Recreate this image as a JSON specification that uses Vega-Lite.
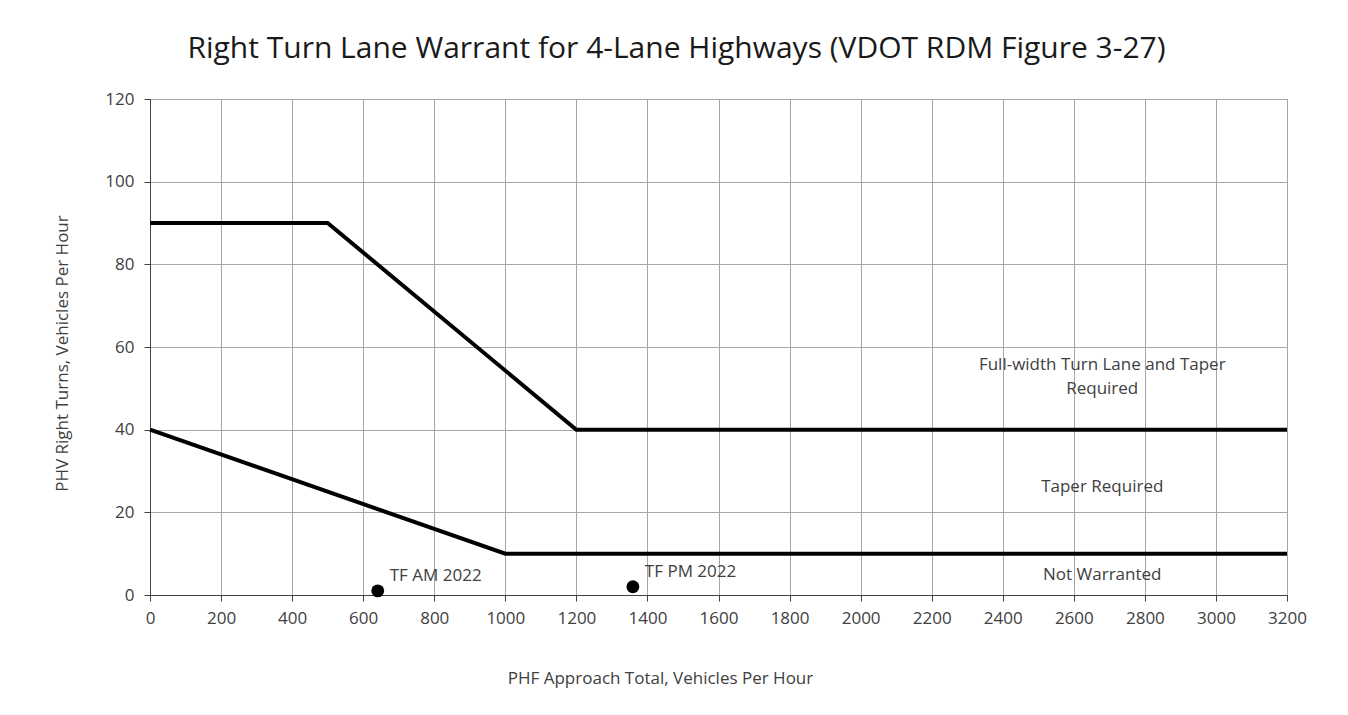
{
  "$schema": "https://vega.github.io/schema/vega-lite/v6.json",
  "autosize": {"type": "none"},
  "width": 1137,
  "height": 496,
  "padding": {"left": 150, "top": 99, "right": 61, "bottom": 120},
  "background": "white",
  "title": {
    "text": "Right Turn Lane Warrant for 4-Lane Highways (VDOT RDM Figure 3-27)",
    "anchor": "middle",
    "dx": -42,
    "offset": 26,
    "font": "Open Sans",
    "fontSize": 30,
    "fontWeight": "normal",
    "color": "#1a1a1a"
  },
  "config": {
    "font": "Open Sans",
    "view": {"stroke": "#404040", "strokeWidth": 1},
    "axis": {
      "labelFont": "Open Sans",
      "labelFontSize": 17,
      "labelColor": "#404040",
      "labelFlush": false,
      "labelOverlap": false,
      "titleFont": "Open Sans",
      "titleFontSize": 17,
      "titleFontWeight": "normal",
      "titleColor": "#404040",
      "gridColor": "#a6a6a6",
      "gridWidth": 1,
      "gridOpacity": 1,
      "domainColor": "#404040",
      "tickColor": "#404040",
      "tickSize": 6
    }
  },
  "datasets": {
    "curves": [
      {"series": "upper", "ord": 1, "x": 0, "y": 90},
      {"series": "upper", "ord": 2, "x": 500, "y": 90},
      {"series": "upper", "ord": 3, "x": 1200, "y": 40},
      {"series": "upper", "ord": 4, "x": 3200, "y": 40},
      {"series": "lower", "ord": 1, "x": 0, "y": 40},
      {"series": "lower", "ord": 2, "x": 1000, "y": 10},
      {"series": "lower", "ord": 3, "x": 3200, "y": 10}
    ],
    "points": [
      {"label": "TF AM 2022", "x": 641, "y": 1},
      {"label": "TF PM 2022", "x": 1359, "y": 2}
    ],
    "regions": [
      {"text": "Full-width Turn Lane and Taper", "x": 2680, "y": 55.6},
      {"text": "Required", "x": 2680, "y": 49.8},
      {"text": "Taper Required", "x": 2680, "y": 26.2},
      {"text": "Not Warranted", "x": 2680, "y": 4.9}
    ]
  },
  "layer": [
    {
      "data": {"name": "curves"},
      "mark": {"type": "line", "color": "black", "strokeWidth": 4, "strokeJoin": "miter"},
      "encoding": {
        "x": {
          "field": "x", "type": "quantitative",
          "scale": {"domain": [0, 3200], "nice": false},
          "axis": {
            "values": [0, 200, 400, 600, 800, 1000, 1200, 1400, 1600, 1800, 2000, 2200, 2400, 2600, 2800, 3000, 3200],
            "format": "d",
            "labelPadding": 9,
            "title": "PHF Approach Total, Vehicles Per Hour",
            "titleX": 510,
            "titleY": 83,
            "titleBaseline": "middle",
            "titleAlign": "center"
          }
        },
        "y": {
          "field": "y", "type": "quantitative",
          "scale": {"domain": [0, 120], "nice": false},
          "axis": {
            "values": [0, 20, 40, 60, 80, 100, 120],
            "format": "d",
            "labelPadding": 10,
            "title": "PHV Right Turns, Vehicles Per Hour",
            "titleX": -88,
            "titleY": 254,
            "titleAngle": -90,
            "titleBaseline": "middle",
            "titleAlign": "center"
          }
        },
        "detail": {"field": "series"},
        "order": {"field": "ord"}
      }
    },
    {
      "data": {"name": "points"},
      "mark": {"type": "circle", "color": "black", "opacity": 1, "size": 165},
      "encoding": {
        "x": {"field": "x", "type": "quantitative"},
        "y": {"field": "y", "type": "quantitative"}
      }
    },
    {
      "data": {"name": "points"},
      "mark": {"type": "text", "align": "left", "baseline": "middle", "dx": 12, "dy": -15, "fontSize": 17, "color": "#404040", "font": "Open Sans"},
      "encoding": {
        "x": {"field": "x", "type": "quantitative"},
        "y": {"field": "y", "type": "quantitative"},
        "text": {"field": "label"}
      }
    },
    {
      "data": {"name": "regions"},
      "mark": {"type": "text", "align": "center", "baseline": "middle", "fontSize": 17, "color": "#404040", "font": "Open Sans"},
      "encoding": {
        "x": {"field": "x", "type": "quantitative"},
        "y": {"field": "y", "type": "quantitative"},
        "text": {"field": "text"}
      }
    }
  ]
}
